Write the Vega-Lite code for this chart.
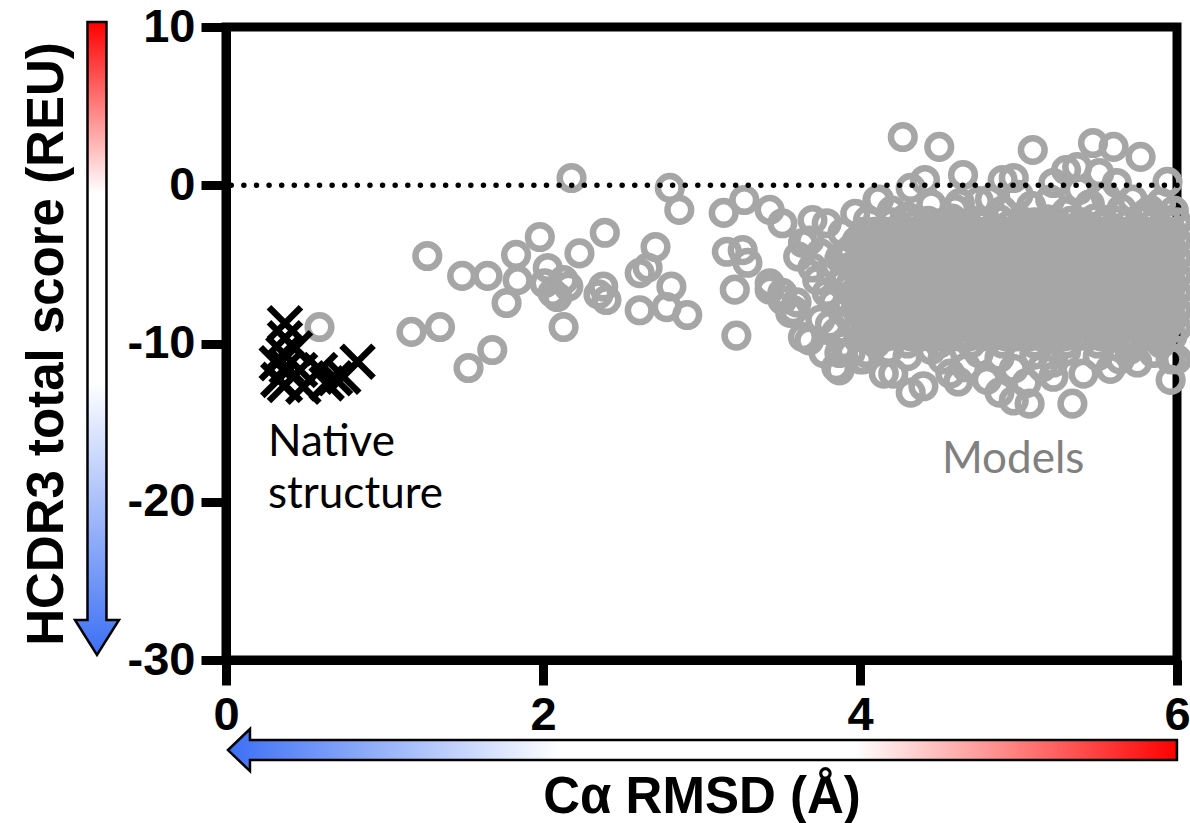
{
 "$schema": "https://vega.github.io/schema/vega-lite/v6.json",
 "width": 951,
 "height": 633,
 "autosize": {"type": "none"},
 "padding": {"left": 226, "top": 27, "right": 13, "bottom": 163},
 "background": "white",
 "config": {
  "view": {"stroke": "black", "strokeWidth": 9},
  "axis": {
   "domainColor": "black", "domainWidth": 9, "tickColor": "black", "tickWidth": 9, "tickSize": 25,
   "labelFont": "Liberation Sans", "labelFontSize": 47, "labelFontWeight": "bold", "labelColor": "black",
   "titleFont": "Liberation Sans", "titleFontSize": 51, "titleFontWeight": "bold", "titleColor": "black",
   "grid": false, "labelPadding": 6, "labelOverlap": false
  }
 },
 "datasets": {
  "harrow": [{"x": 3.006, "y": -35.69}],
  "varrow": [{"x": -0.814, "y": -9.68}],
  "native": [
   {"x":0.372,"y":-8.72},{"x":0.372,"y":-9.67},{"x":0.362,"y":-10.62},{"x":0.383,"y":-11.47},{"x":0.372,"y":-12.62},
   {"x":0.488,"y":-12.73},{"x":0.467,"y":-11.67},{"x":0.635,"y":-12.52},{"x":0.593,"y":-11.67},{"x":0.688,"y":-12.2},
   {"x":0.74,"y":-12.1},{"x":0.83,"y":-11.15},{"x":0.33,"y":-12.3},{"x":0.32,"y":-11.25},{"x":0.435,"y":-10.3}
  ],
  "nativeLabels": [
   {"label": "Native", "x": 0.265, "y": -17.1},
   {"label": "structure", "x": 0.265, "y": -20.4}
  ],
  "modelLabels": [{"label": "Models", "x": 4.517, "y": -18.18}],
  "zero": [{"y": 0}],
  "models": [
   {"x":0.59,"y":-8.96},{"x":1.17,"y":-9.27},{"x":1.35,"y":-8.96},{"x":1.53,"y":-11.55},{"x":1.68,"y":-10.41},
   {"x":1.27,"y":-4.47},{"x":1.49,"y":-5.73},{"x":1.65,"y":-5.73},{"x":1.77,"y":-7.44},{"x":1.83,"y":-4.4},
   {"x":1.84,"y":-6.0},{"x":1.98,"y":-3.27},{"x":2.03,"y":-5.23},{"x":2.01,"y":-6.2},{"x":2.06,"y":-6.8},
   {"x":2.18,"y":0.46},{"x":2.39,"y":-3.0},{"x":2.23,"y":-4.3},{"x":2.13,"y":-6.0},{"x":2.09,"y":-7.06},
   {"x":2.16,"y":-6.4},{"x":2.13,"y":-8.96},{"x":2.38,"y":-6.4},{"x":2.4,"y":-7.25},{"x":2.35,"y":-6.9},
   {"x":2.61,"y":-5.55},{"x":2.71,"y":-3.9},{"x":2.66,"y":-5.2},{"x":2.61,"y":-7.9},{"x":2.81,"y":-6.4},
   {"x":2.78,"y":-7.7},{"x":2.91,"y":-8.2},{"x":2.8,"y":-0.17},{"x":2.86,"y":-1.56},{"x":3.14,"y":-1.75},
   {"x":3.27,"y":-0.93},{"x":3.43,"y":-1.56},{"x":3.51,"y":-2.4},{"x":3.16,"y":-4.2},{"x":3.26,"y":-4.1},
   {"x":3.29,"y":-4.9},{"x":3.21,"y":-6.6},{"x":3.22,"y":-9.5},{"x":3.43,"y":-6.6},{"x":3.51,"y":-7.25},
   {"x":3.58,"y":-7.9},{"x":3.7,"y":-2.2},{"x":3.79,"y":-2.4},{"x":3.89,"y":-3.0},{"x":3.61,"y":-4.5},
   {"x":3.64,"y":-3.65},{"x":3.7,"y":-5.2},{"x":3.43,"y":-6.2},{"x":3.51,"y":-6.8},{"x":3.6,"y":-7.4},
   {"x":3.56,"y":-8.07},{"x":3.64,"y":-9.6},{"x":3.83,"y":-7.4},{"x":3.79,"y":-6.8},{"x":3.85,"y":-9.3},
   {"x":3.94,"y":-10.6},{"x":3.85,"y":-11.5},{"x":3.77,"y":-10.6},{"x":4.02,"y":-11.0},{"x":4.15,"y":-11.9},
   {"x":3.73,"y":-6.0},{"x":3.68,"y":-3.5},{"x":3.75,"y":-4.3},{"x":3.82,"y":-5.5},{"x":3.87,"y":-4.6},
   {"x":3.88,"y":-6.2},{"x":3.68,"y":-9.8},{"x":3.81,"y":-8.8},{"x":3.9,"y":-10.1},{"x":3.75,"y":-8.5},{"x":3.9,"y":-8.0},
   {"x":4.27,"y":3.05},{"x":4.5,"y":2.42},{"x":5.09,"y":2.23},{"x":5.47,"y":2.67},{"x":5.6,"y":2.42},
   {"x":5.77,"y":1.79},{"x":5.94,"y":0.21},{"x":4.65,"y":0.65},{"x":4.41,"y":0.33},{"x":4.32,"y":-0.17},
   {"x":4.11,"y":-0.93},{"x":4.97,"y":0.46},{"x":4.9,"y":0.33},{"x":5.22,"y":0.14},{"x":5.3,"y":0.96},
   {"x":5.37,"y":1.15},{"x":5.51,"y":0.77},{"x":5.62,"y":0.14},{"x":5.83,"y":-1.56},{"x":4.63,"y":-1.12},{"x":4.82,"y":-0.9},
   {"x":4.45,"y":-1.2},{"x":4.6,"y":-1.5},{"x":4.75,"y":-1.0},{"x":4.9,"y":-1.6},{"x":5.0,"y":-0.6},
   {"x":5.08,"y":-1.3},{"x":5.2,"y":-0.9},{"x":5.3,"y":-1.7},{"x":5.38,"y":-0.3},{"x":5.45,"y":-1.2},
   {"x":5.55,"y":-0.7},{"x":5.65,"y":-1.5},{"x":5.72,"y":-0.9},{"x":5.8,"y":-1.8},{"x":5.9,"y":-1.1},
   {"x":5.98,"y":-1.6},{"x":4.2,"y":-1.6},{"x":4.3,"y":-2.0},{"x":4.05,"y":-2.2},{"x":3.97,"y":-1.8},{"x":4.12,"y":-0.9},
   {"x":3.87,"y":-10.6},{"x":4.0,"y":-11.0},{"x":3.87,"y":-11.7},{"x":4.21,"y":-11.9},{"x":4.32,"y":-13.1},
   {"x":4.4,"y":-12.7},{"x":4.57,"y":-11.9},{"x":4.8,"y":-12.3},{"x":4.88,"y":-13.1},{"x":4.97,"y":-13.6},
   {"x":5.07,"y":-13.8},{"x":5.05,"y":-12.5},{"x":5.22,"y":-12.1},{"x":5.34,"y":-13.8},{"x":5.41,"y":-11.9},
   {"x":5.64,"y":-11.0},{"x":5.75,"y":-11.2},{"x":5.96,"y":-12.3},{"x":5.96,"y":-11.0},{"x":6.0,"y":-11.0},
   {"x":4.04,"y":-10.6},{"x":5.22,"y":-11.2},{"x":4.52,"y":-11.0},{"x":4.67,"y":-11.5},{"x":4.88,"y":-10.9},
   {"x":4.97,"y":-11.6},{"x":4.3,"y":-10.8},{"x":4.45,"y":-10.4},{"x":4.75,"y":-10.6},{"x":5.1,"y":-10.7},
   {"x":5.3,"y":-10.5},{"x":5.5,"y":-10.8},{"x":5.7,"y":-10.4},{"x":5.85,"y":-10.6},{"x":5.58,"y":-11.6},
   {"x":5.15,"y":-11.5},{"x":4.62,"y":-12.4},{"x":4.18,"y":-10.4},
   {"x":4.1,"y":-10.0},{"x":4.3,"y":-10.0},{"x":4.5,"y":-10.0},{"x":4.7,"y":-10.0},{"x":4.9,"y":-10.0},
   {"x":5.1,"y":-10.0},{"x":5.3,"y":-10.0},{"x":5.5,"y":-10.0},{"x":5.7,"y":-10.0},{"x":5.9,"y":-10.0},
   {"x":4.2,"y":-2.35},{"x":4.28,"y":-2.15},{"x":4.35,"y":-2.45},{"x":4.43,"y":-2.25},{"x":4.5,"y":-2.4},{"x":4.58,"y":-2.1},{"x":4.65,"y":-2.45},{"x":4.73,"y":-2.25},{"x":4.8,"y":-2.35},{"x":4.88,"y":-2.15},{"x":4.95,"y":-2.45},{"x":5.03,"y":-2.3},{"x":5.1,"y":-2.35},{"x":5.18,"y":-2.15},{"x":5.25,"y":-2.45},{"x":5.33,"y":-2.25},{"x":5.4,"y":-2.35},{"x":5.48,"y":-2.1},{"x":5.55,"y":-2.45},{"x":5.63,"y":-2.25},{"x":5.7,"y":-2.35},{"x":5.78,"y":-2.2},{"x":5.85,"y":-2.4},{"x":5.93,"y":-2.2},{"x":6.0,"y":-2.35},
   {"x":4.02,"y":-2.95},{"x":4.09,"y":-2.95},{"x":4.17,"y":-2.95},{"x":4.24,"y":-2.95},{"x":4.32,"y":-2.95},{"x":4.39,"y":-2.95},{"x":4.47,"y":-2.95},{"x":4.54,"y":-2.95},{"x":4.62,"y":-2.95},{"x":4.69,"y":-2.95},{"x":4.77,"y":-2.95},{"x":4.84,"y":-2.95},{"x":4.92,"y":-2.95},{"x":4.99,"y":-2.95},{"x":5.07,"y":-2.95},{"x":5.14,"y":-2.95},{"x":5.22,"y":-2.95},{"x":5.29,"y":-2.95},{"x":5.37,"y":-2.95},{"x":5.44,"y":-2.95},{"x":5.52,"y":-2.95},{"x":5.59,"y":-2.95},{"x":5.67,"y":-2.95},{"x":5.74,"y":-2.95},{"x":5.82,"y":-2.95},{"x":5.89,"y":-2.95},{"x":5.97,"y":-2.95},
   {"x":3.98,"y":-3.5},{"x":4.05,"y":-3.5},{"x":4.13,"y":-3.5},{"x":4.2,"y":-3.5},{"x":4.28,"y":-3.5},{"x":4.35,"y":-3.5},{"x":4.43,"y":-3.5},{"x":4.5,"y":-3.5},{"x":4.58,"y":-3.5},{"x":4.65,"y":-3.5},{"x":4.73,"y":-3.5},{"x":4.8,"y":-3.5},{"x":4.88,"y":-3.5},{"x":4.95,"y":-3.5},{"x":5.03,"y":-3.5},{"x":5.1,"y":-3.5},{"x":5.18,"y":-3.5},{"x":5.25,"y":-3.5},{"x":5.33,"y":-3.5},{"x":5.4,"y":-3.5},{"x":5.48,"y":-3.5},{"x":5.55,"y":-3.5},{"x":5.63,"y":-3.5},{"x":5.7,"y":-3.5},{"x":5.78,"y":-3.5},{"x":5.85,"y":-3.5},{"x":5.93,"y":-3.5},{"x":6.0,"y":-3.5},
   {"x":3.94,"y":-4.05},{"x":4.02,"y":-4.05},{"x":4.09,"y":-4.05},{"x":4.17,"y":-4.05},{"x":4.24,"y":-4.05},{"x":4.32,"y":-4.05},{"x":4.39,"y":-4.05},{"x":4.47,"y":-4.05},{"x":4.54,"y":-4.05},{"x":4.62,"y":-4.05},{"x":4.69,"y":-4.05},{"x":4.77,"y":-4.05},{"x":4.84,"y":-4.05},{"x":4.92,"y":-4.05},{"x":4.99,"y":-4.05},{"x":5.07,"y":-4.05},{"x":5.14,"y":-4.05},{"x":5.22,"y":-4.05},{"x":5.29,"y":-4.05},{"x":5.37,"y":-4.05},{"x":5.44,"y":-4.05},{"x":5.52,"y":-4.05},{"x":5.59,"y":-4.05},{"x":5.67,"y":-4.05},{"x":5.74,"y":-4.05},{"x":5.82,"y":-4.05},{"x":5.89,"y":-4.05},{"x":5.97,"y":-4.05},
   {"x":3.92,"y":-4.6},{"x":4.05,"y":-4.6},{"x":4.13,"y":-4.6},{"x":4.2,"y":-4.6},{"x":4.28,"y":-4.6},{"x":4.35,"y":-4.6},{"x":4.43,"y":-4.6},{"x":4.5,"y":-4.6},{"x":4.58,"y":-4.6},{"x":4.65,"y":-4.6},{"x":4.73,"y":-4.6},{"x":4.8,"y":-4.6},{"x":4.88,"y":-4.6},{"x":4.95,"y":-4.6},{"x":5.03,"y":-4.6},{"x":5.1,"y":-4.6},{"x":5.18,"y":-4.6},{"x":5.25,"y":-4.6},{"x":5.33,"y":-4.6},{"x":5.4,"y":-4.6},{"x":5.48,"y":-4.6},{"x":5.55,"y":-4.6},{"x":5.63,"y":-4.6},{"x":5.7,"y":-4.6},{"x":5.78,"y":-4.6},{"x":5.85,"y":-4.6},{"x":5.93,"y":-4.6},{"x":6.0,"y":-4.6},
   {"x":3.94,"y":-5.15},{"x":4.02,"y":-5.15},{"x":4.09,"y":-5.15},{"x":4.17,"y":-5.15},{"x":4.24,"y":-5.15},{"x":4.32,"y":-5.15},{"x":4.39,"y":-5.15},{"x":4.47,"y":-5.15},{"x":4.54,"y":-5.15},{"x":4.62,"y":-5.15},{"x":4.69,"y":-5.15},{"x":4.77,"y":-5.15},{"x":4.84,"y":-5.15},{"x":4.92,"y":-5.15},{"x":4.99,"y":-5.15},{"x":5.07,"y":-5.15},{"x":5.14,"y":-5.15},{"x":5.22,"y":-5.15},{"x":5.29,"y":-5.15},{"x":5.37,"y":-5.15},{"x":5.44,"y":-5.15},{"x":5.52,"y":-5.15},{"x":5.59,"y":-5.15},{"x":5.67,"y":-5.15},{"x":5.74,"y":-5.15},{"x":5.82,"y":-5.15},{"x":5.89,"y":-5.15},{"x":5.97,"y":-5.15},
   {"x":3.9,"y":-5.7},{"x":4.05,"y":-5.7},{"x":4.13,"y":-5.7},{"x":4.2,"y":-5.7},{"x":4.28,"y":-5.7},{"x":4.35,"y":-5.7},{"x":4.43,"y":-5.7},{"x":4.5,"y":-5.7},{"x":4.58,"y":-5.7},{"x":4.65,"y":-5.7},{"x":4.73,"y":-5.7},{"x":4.8,"y":-5.7},{"x":4.88,"y":-5.7},{"x":4.95,"y":-5.7},{"x":5.03,"y":-5.7},{"x":5.1,"y":-5.7},{"x":5.18,"y":-5.7},{"x":5.25,"y":-5.7},{"x":5.33,"y":-5.7},{"x":5.4,"y":-5.7},{"x":5.48,"y":-5.7},{"x":5.55,"y":-5.7},{"x":5.63,"y":-5.7},{"x":5.7,"y":-5.7},{"x":5.78,"y":-5.7},{"x":5.85,"y":-5.7},{"x":5.93,"y":-5.7},{"x":6.0,"y":-5.7},
   {"x":3.94,"y":-6.25},{"x":4.02,"y":-6.25},{"x":4.09,"y":-6.25},{"x":4.17,"y":-6.25},{"x":4.24,"y":-6.25},{"x":4.32,"y":-6.25},{"x":4.39,"y":-6.25},{"x":4.47,"y":-6.25},{"x":4.54,"y":-6.25},{"x":4.62,"y":-6.25},{"x":4.69,"y":-6.25},{"x":4.77,"y":-6.25},{"x":4.84,"y":-6.25},{"x":4.92,"y":-6.25},{"x":4.99,"y":-6.25},{"x":5.07,"y":-6.25},{"x":5.14,"y":-6.25},{"x":5.22,"y":-6.25},{"x":5.29,"y":-6.25},{"x":5.37,"y":-6.25},{"x":5.44,"y":-6.25},{"x":5.52,"y":-6.25},{"x":5.59,"y":-6.25},{"x":5.67,"y":-6.25},{"x":5.74,"y":-6.25},{"x":5.82,"y":-6.25},{"x":5.89,"y":-6.25},{"x":5.97,"y":-6.25},
   {"x":3.96,"y":-6.8},{"x":4.05,"y":-6.8},{"x":4.13,"y":-6.8},{"x":4.2,"y":-6.8},{"x":4.28,"y":-6.8},{"x":4.35,"y":-6.8},{"x":4.43,"y":-6.8},{"x":4.5,"y":-6.8},{"x":4.58,"y":-6.8},{"x":4.65,"y":-6.8},{"x":4.73,"y":-6.8},{"x":4.8,"y":-6.8},{"x":4.88,"y":-6.8},{"x":4.95,"y":-6.8},{"x":5.03,"y":-6.8},{"x":5.1,"y":-6.8},{"x":5.18,"y":-6.8},{"x":5.25,"y":-6.8},{"x":5.33,"y":-6.8},{"x":5.4,"y":-6.8},{"x":5.48,"y":-6.8},{"x":5.55,"y":-6.8},{"x":5.63,"y":-6.8},{"x":5.7,"y":-6.8},{"x":5.78,"y":-6.8},{"x":5.85,"y":-6.8},{"x":5.93,"y":-6.8},{"x":6.0,"y":-6.8},
   {"x":3.92,"y":-7.35},{"x":4.02,"y":-7.35},{"x":4.09,"y":-7.35},{"x":4.17,"y":-7.35},{"x":4.24,"y":-7.35},{"x":4.32,"y":-7.35},{"x":4.39,"y":-7.35},{"x":4.47,"y":-7.35},{"x":4.54,"y":-7.35},{"x":4.62,"y":-7.35},{"x":4.69,"y":-7.35},{"x":4.77,"y":-7.35},{"x":4.84,"y":-7.35},{"x":4.92,"y":-7.35},{"x":4.99,"y":-7.35},{"x":5.07,"y":-7.35},{"x":5.14,"y":-7.35},{"x":5.22,"y":-7.35},{"x":5.29,"y":-7.35},{"x":5.37,"y":-7.35},{"x":5.44,"y":-7.35},{"x":5.52,"y":-7.35},{"x":5.59,"y":-7.35},{"x":5.67,"y":-7.35},{"x":5.74,"y":-7.35},{"x":5.82,"y":-7.35},{"x":5.89,"y":-7.35},{"x":5.97,"y":-7.35},
   {"x":3.98,"y":-7.9},{"x":4.05,"y":-7.9},{"x":4.13,"y":-7.9},{"x":4.2,"y":-7.9},{"x":4.28,"y":-7.9},{"x":4.35,"y":-7.9},{"x":4.43,"y":-7.9},{"x":4.5,"y":-7.9},{"x":4.58,"y":-7.9},{"x":4.65,"y":-7.9},{"x":4.73,"y":-7.9},{"x":4.8,"y":-7.9},{"x":4.88,"y":-7.9},{"x":4.95,"y":-7.9},{"x":5.03,"y":-7.9},{"x":5.1,"y":-7.9},{"x":5.18,"y":-7.9},{"x":5.25,"y":-7.9},{"x":5.33,"y":-7.9},{"x":5.4,"y":-7.9},{"x":5.48,"y":-7.9},{"x":5.55,"y":-7.9},{"x":5.63,"y":-7.9},{"x":5.7,"y":-7.9},{"x":5.78,"y":-7.9},{"x":5.85,"y":-7.9},{"x":5.93,"y":-7.9},{"x":6.0,"y":-7.9},
   {"x":3.94,"y":-8.45},{"x":4.02,"y":-8.45},{"x":4.09,"y":-8.45},{"x":4.17,"y":-8.45},{"x":4.24,"y":-8.45},{"x":4.32,"y":-8.45},{"x":4.39,"y":-8.45},{"x":4.47,"y":-8.45},{"x":4.54,"y":-8.45},{"x":4.62,"y":-8.45},{"x":4.69,"y":-8.45},{"x":4.77,"y":-8.45},{"x":4.84,"y":-8.45},{"x":4.92,"y":-8.45},{"x":4.99,"y":-8.45},{"x":5.07,"y":-8.45},{"x":5.14,"y":-8.45},{"x":5.22,"y":-8.45},{"x":5.29,"y":-8.45},{"x":5.37,"y":-8.45},{"x":5.44,"y":-8.45},{"x":5.52,"y":-8.45},{"x":5.59,"y":-8.45},{"x":5.67,"y":-8.45},{"x":5.74,"y":-8.45},{"x":5.82,"y":-8.45},{"x":5.89,"y":-8.45},{"x":5.97,"y":-8.45},
   {"x":3.98,"y":-9.0},{"x":4.05,"y":-9.0},{"x":4.13,"y":-9.0},{"x":4.2,"y":-9.0},{"x":4.28,"y":-9.0},{"x":4.35,"y":-9.0},{"x":4.43,"y":-9.0},{"x":4.5,"y":-9.0},{"x":4.58,"y":-9.0},{"x":4.65,"y":-9.0},{"x":4.73,"y":-9.0},{"x":4.8,"y":-9.0},{"x":4.88,"y":-9.0},{"x":4.95,"y":-9.0},{"x":5.03,"y":-9.0},{"x":5.1,"y":-9.0},{"x":5.18,"y":-9.0},{"x":5.25,"y":-9.0},{"x":5.33,"y":-9.0},{"x":5.4,"y":-9.0},{"x":5.48,"y":-9.0},{"x":5.55,"y":-9.0},{"x":5.63,"y":-9.0},{"x":5.7,"y":-9.0},{"x":5.78,"y":-9.0},{"x":5.85,"y":-9.0},{"x":5.93,"y":-9.0},{"x":6.0,"y":-9.0},
   {"x":4.02,"y":-9.55},{"x":4.09,"y":-9.55},{"x":4.17,"y":-9.55},{"x":4.24,"y":-9.55},{"x":4.32,"y":-9.55},{"x":4.39,"y":-9.55},{"x":4.47,"y":-9.55},{"x":4.54,"y":-9.55},{"x":4.62,"y":-9.55},{"x":4.69,"y":-9.55},{"x":4.77,"y":-9.55},{"x":4.84,"y":-9.55},{"x":4.92,"y":-9.55},{"x":4.99,"y":-9.55},{"x":5.07,"y":-9.55},{"x":5.14,"y":-9.55},{"x":5.22,"y":-9.55},{"x":5.29,"y":-9.55},{"x":5.37,"y":-9.55},{"x":5.44,"y":-9.55},{"x":5.52,"y":-9.55},{"x":5.59,"y":-9.55},{"x":5.67,"y":-9.55},{"x":5.74,"y":-9.55},{"x":5.82,"y":-9.55},{"x":5.89,"y":-9.55},{"x":5.97,"y":-9.55}
  ]
 },
 "layer": [
  {
   "data": {"name": "models"},
   "mark": {"type": "point", "shape": "circle", "size": 560, "strokeWidth": 6.5, "color": "#a6a6a6", "filled": false, "opacity": 1},
   "encoding": {
    "x": {"field": "x", "type": "quantitative", "title": "Cα RMSD (Å)",
      "scale": {"domain": [0, 6], "nice": false, "zero": false},
      "axis": {"values": [0, 2, 4, 6], "format": "d", "labelPadding": 7, "labelFlush": false,
        "titleX": 475.5, "titleY": 152, "titleBaseline": "alphabetic", "titleAlign": "center"}},
    "y": {"field": "y", "type": "quantitative", "title": "HCDR3 total score (REU)",
      "scale": {"domain": [-30, 10], "nice": false, "zero": false},
      "axis": {"values": [10, 0, -10, -20, -30], "labelExpr": "datum.value", "labelFlush": false,
        "titleX": -164, "titleY": 316.5, "titleAngle": -90, "titleBaseline": "alphabetic", "titleAlign": "center"}}
   }
  },
  {
   "data": {"name": "harrow"},
   "mark": {"type": "point", "shape": "M1,-0.0211L-0.9536,-0.0211L-0.9536,-0.0443L-1,0L-0.9536,0.0443L-0.9536,0.0211L1,0.0211Z",
     "size": 900601, "filled": true, "opacity": 1, "stroke": "black", "strokeWidth": 2.5, "strokeJoin": "miter",
     "fill": {"gradient": "linear", "x1": 0, "y1": 0, "x2": 1, "y2": 0,
       "stops": [{"offset": 0, "color": "#3c6ff5"}, {"offset": 0.35, "color": "#ffffff"}, {"offset": 0.66, "color": "#ffffff"}, {"offset": 1, "color": "#ff0000"}]}},
   "encoding": {
    "x": {"field": "x", "type": "quantitative", "title": "Cα RMSD (Å)"},
    "y": {"field": "y", "type": "quantitative", "title": "HCDR3 total score (REU)"}
   }
  },
  {
   "data": {"name": "varrow"},
   "mark": {"type": "point", "shape": "M-0.03,-1L0.03,-1L0.03,0.8894L0.0695,0.8894L0,1L-0.0695,0.8894L-0.03,0.8894Z",
     "size": 400689, "filled": true, "opacity": 1, "stroke": "black", "strokeWidth": 2.5, "strokeJoin": "miter",
     "fill": {"gradient": "linear", "x1": 0, "y1": 0, "x2": 0, "y2": 1,
       "stops": [{"offset": 0, "color": "#ff0000"}, {"offset": 0.27, "color": "#ffffff"}, {"offset": 0.57, "color": "#ffffff"}, {"offset": 1, "color": "#3c6ff5"}]}},
   "encoding": {
    "x": {"field": "x", "type": "quantitative", "title": "Cα RMSD (Å)"},
    "y": {"field": "y", "type": "quantitative", "title": "HCDR3 total score (REU)"}
   }
  },
  {
   "data": {"name": "zero"},
   "mark": {"type": "rule", "color": "black", "strokeWidth": 5.5, "strokeCap": "round", "strokeDash": [0.01, 12.6]},
   "encoding": {
    "y": {"field": "y", "type": "quantitative", "title": "HCDR3 total score (REU)"}
   }
  },
  {
   "data": {"name": "native"},
   "mark": {"type": "point", "shape": "M-1,-1L1,1M-1,1L1,-1", "size": 1024, "strokeWidth": 6.5, "color": "black", "filled": false, "opacity": 1},
   "encoding": {
    "x": {"field": "x", "type": "quantitative", "title": "Cα RMSD (Å)"},
    "y": {"field": "y", "type": "quantitative", "title": "HCDR3 total score (REU)"}
   }
  },
  {
   "data": {"name": "nativeLabels"},
   "mark": {"type": "text", "font": "Lato", "fontSize": 44, "align": "left", "baseline": "alphabetic", "color": "black"},
   "encoding": {
    "x": {"field": "x", "type": "quantitative", "title": "Cα RMSD (Å)"},
    "y": {"field": "y", "type": "quantitative", "title": "HCDR3 total score (REU)"},
    "text": {"field": "label"}
   }
  },
  {
   "data": {"name": "modelLabels"},
   "mark": {"type": "text", "font": "Lato", "fontSize": 44, "align": "left", "baseline": "alphabetic", "color": "#808080"},
   "encoding": {
    "x": {"field": "x", "type": "quantitative", "title": "Cα RMSD (Å)"},
    "y": {"field": "y", "type": "quantitative", "title": "HCDR3 total score (REU)"},
    "text": {"field": "label"}
   }
  }
 ]
}
